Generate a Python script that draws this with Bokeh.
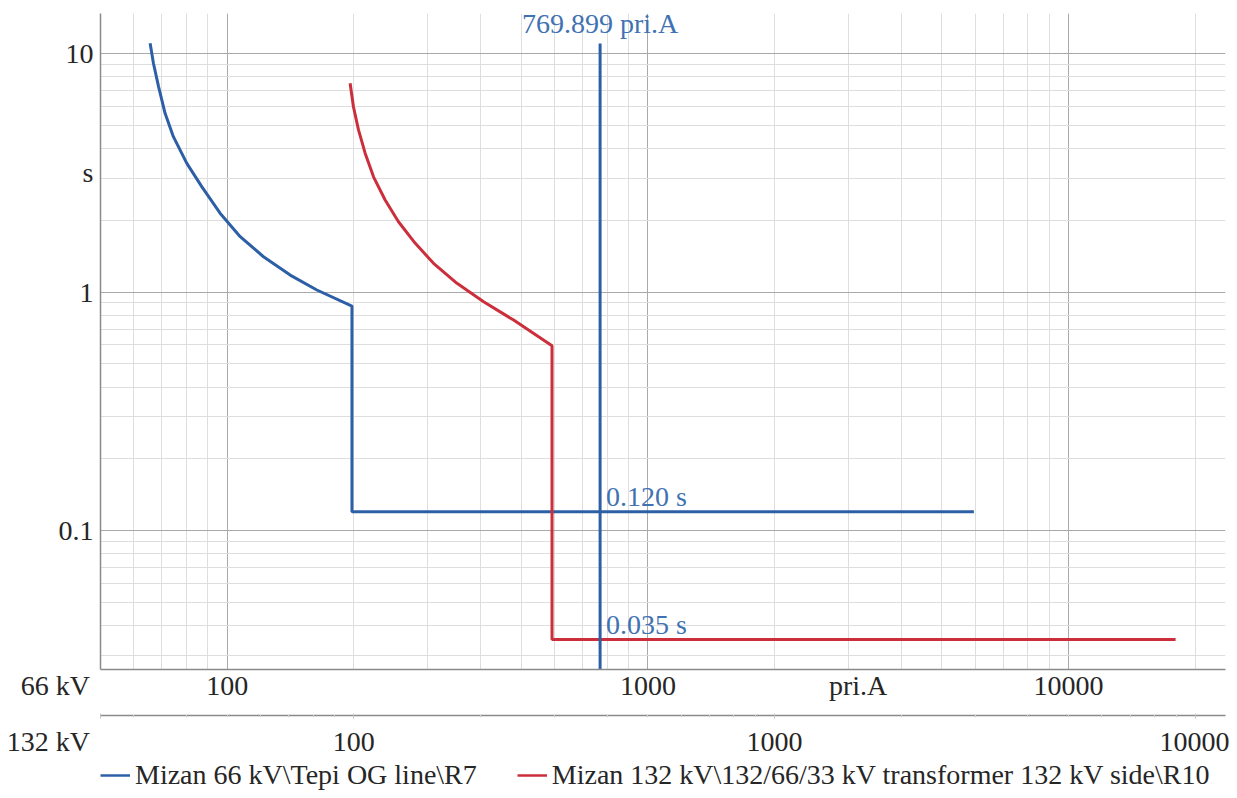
from bokeh.plotting import figure
from bokeh.layouts import column
from bokeh.models import (Range1d, LogAxis, LogScale, FixedTicker, Legend, LegendItem, Label)
from bokeh.embed import file_html
from bokeh.resources import INLINE

# ---------------- data ----------------
# Blue: Mizan 66 kV\Tepi OG line\R7 (currents in 66 kV primary amps)
blue_current = [65.6, 66.8, 68.7, 71.2, 74.5, 80.2, 87.1, 96.2, 107.4, 122.0, 141.2, 163.4, 198.0, 198.0, 5955.0]
blue_time = [11.04, 9.10, 7.26, 5.61, 4.48, 3.46, 2.76, 2.14, 1.706, 1.406, 1.178, 1.02, 0.874, 0.120, 0.120]

# Red: Mizan 132 kV transformer 132 kV side\R10 (currents in 132 kV primary amps)
red_current_132 = [98.0, 99.8, 102.6, 106.4, 111.4, 118.7, 127.7, 140.0, 154.7, 175.9, 203.5, 239.8, 295.9, 295.9, 8980.0]
red_time = [7.50, 5.98, 4.78, 3.82, 3.04, 2.43, 1.97, 1.60, 1.32, 1.088, 0.911, 0.763, 0.595, 0.035, 0.035]

# Cursor line (66 kV amps)
cursor_current = 769.899
cursor_top_time = 11.0
blue_definite_time = 0.120
red_definite_time = 0.035

# Axes ticks
x_ticks = [100, 1000, 10000]
x_tick_labels = ["100", "1000", "10000"]
x_title_tick = 3160
x_title = "pri.A"
y_ticks = [0.1, 1, 10]
y_tick_labels = ["0.1", "1", "10"]
y_title_tick = 3.16
y_title = "s"
voltage_labels = ["66 kV", "132 kV"]

legend_labels = ["Mizan 66 kV\\Tepi OG line\\R7",
                 "Mizan 132 kV\\132/66/33 kV transformer 132 kV side\\R10"]

# ---------------- style ----------------
BLUE = "#2d5fa6"
RED = "#cc2f3c"
TXT_BLUE = "#3f72b2"
TXT = "#262626"
FONT = "Liberation Serif"
FS = "28px"
NBSP = "\u00a0"

X_START, X_END = 50, 23600
Y_START, Y_END = 0.0262, 14.7

p = figure(frame_width=1125, frame_height=656,
           x_axis_type="log", y_axis_type="log",
           x_range=Range1d(X_START, X_END), y_range=Range1d(Y_START, Y_END),
           output_backend="svg", toolbar_location=None,
           min_border_left=100, min_border_right=4, min_border_top=13, min_border_bottom=0,
           outline_line_color=None, background_fill_color="white")

p.extra_x_ranges = {"kv132": Range1d(X_START / 2, X_END / 2)}
p.extra_x_scales = {"kv132": LogScale()}

# grids
def minors(lo_exp, hi_exp):
    out = []
    for e in range(lo_exp, hi_exp + 1):
        for m in range(2, 10):
            out.append(m * 10.0 ** e)
    return out

p.xgrid.ticker = FixedTicker(ticks=x_ticks, minor_ticks=[v for v in minors(1, 4) if X_START <= v <= X_END])
p.ygrid.ticker = FixedTicker(ticks=y_ticks, minor_ticks=[v for v in minors(-2, 1) if Y_START <= v <= Y_END])
for g in (p.xgrid[0], p.ygrid[0]):
    g.grid_line_color = "#a9a9a9"
    g.grid_line_width = 1
    g.minor_grid_line_color = "#dedede"
    g.minor_grid_line_width = 1

# x axis (66 kV) -- the voltage name sits at the start of the axis, padded so it ends left of the frame
v66_tick = X_START * 1.002
xa = p.xaxis[0]
xa.ticker = FixedTicker(ticks=[v66_tick] + x_ticks + [x_title_tick])
xa.major_label_overrides = {v66_tick: voltage_labels[0] + NBSP * 13,
                            **{k: v for k, v in zip(x_ticks, x_tick_labels)},
                            x_title_tick: x_title}
xa.major_tick_in = 0
xa.major_tick_out = 0
xa.minor_tick_in = 0
xa.minor_tick_out = 0
xa.major_label_standoff = 0
xa.axis_line_color = "#8a8a8a"
xa.axis_line_width = 1.5
xa.major_label_text_font = FONT
xa.major_label_text_font_size = FS
xa.major_label_text_color = TXT
xa.axis_label = " "
xa.axis_label_text_font_size = "8px"
xa.axis_label_standoff = 0

# x axis (132 kV)
v132_tick = X_START / 2 * 1.002
xa2 = LogAxis(x_range_name="kv132",
              ticker=FixedTicker(ticks=[v132_tick] + x_ticks,
                                 minor_ticks=[v for v in minors(1, 4) if X_START / 2 <= v <= X_END / 2]))
xa2.major_label_overrides = {v132_tick: voltage_labels[1] + NBSP * 15,
                             **{k: v for k, v in zip(x_ticks, x_tick_labels)}}
xa2.major_tick_in = 2
xa2.major_tick_out = 3
xa2.minor_tick_in = 1
xa2.minor_tick_out = 2
xa2.major_tick_line_color = "#c4c4c4"
xa2.minor_tick_line_color = "#d4d4d4"
xa2.major_label_standoff = 7
xa2.axis_line_color = "#8a8a8a"
xa2.axis_line_width = 1.5
xa2.major_label_text_font = FONT
xa2.major_label_text_font_size = FS
xa2.major_label_text_color = TXT
p.add_layout(xa2, "below")

# y axis
ya = p.yaxis[0]
ya.ticker = FixedTicker(ticks=y_ticks + [y_title_tick])
ya.major_label_overrides = {**{k: v for k, v in zip(y_ticks, y_tick_labels)}, y_title_tick: y_title}
ya.major_tick_in = 0
ya.major_tick_out = 0
ya.minor_tick_in = 0
ya.minor_tick_out = 0
ya.major_label_standoff = 7
ya.axis_line_color = "#8a8a8a"
ya.axis_line_width = 1.5
ya.major_label_text_font = FONT
ya.major_label_text_font_size = FS
ya.major_label_text_color = TXT

# curves
r_blue = p.line(blue_current, blue_time, line_color=BLUE, line_width=3)
r_red = p.line(red_current_132, red_time, x_range_name="kv132", line_color=RED, line_width=3)

# cursor
p.segment(x0=[cursor_current], y0=[Y_START], x1=[cursor_current], y1=[cursor_top_time],
          line_color=BLUE, line_width=3)

p.add_layout(Label(x=cursor_current, y=646, y_units="screen", text=f"{cursor_current:.3f} pri.A",
                   text_align="center", text_baseline="middle", text_font=FONT,
                   text_font_size=FS, text_color=TXT_BLUE))
p.add_layout(Label(x=cursor_current, y=blue_definite_time, x_offset=6, y_offset=15,
                   text=f"{blue_definite_time:.3f} s", text_align="left", text_baseline="alphabetic",
                   text_font=FONT, text_font_size=FS, text_color=TXT_BLUE))
p.add_layout(Label(x=cursor_current, y=red_definite_time, x_offset=6, y_offset=15,
                   text=f"{red_definite_time:.3f} s", text_align="left", text_baseline="alphabetic",
                   text_font=FONT, text_font_size=FS, text_color=TXT_BLUE))

# ---------------- legend strip below the chart ----------------
leg_fig = figure(width=1237, height=36, x_range=Range1d(0, 1), y_range=Range1d(0, 1),
                 x_axis_location=None, y_axis_location=None,
                 output_backend="svg", toolbar_location=None,
                 min_border_left=68, min_border_right=0, min_border_top=0, min_border_bottom=0,
                 outline_line_color=None, background_fill_color="white")
leg_fig.grid.visible = False
# same series drawn (out of view) in the strip so the legend has renderers to sample
lb = leg_fig.line(blue_current, blue_time, line_color=BLUE, line_width=2.5)
lr = leg_fig.line(red_current_132, red_time, line_color=RED, line_width=2.5)
legend = Legend(items=[LegendItem(label=legend_labels[0], renderers=[lb]),
                       LegendItem(label=legend_labels[1], renderers=[lr])],
                orientation="horizontal", location="top_left",
                label_text_font=FONT, label_text_font_size=FS, label_text_color=TXT,
                glyph_width=30, glyph_height=20, label_standoff=5, spacing=40,
                padding=0, margin=0, border_line_color=None, background_fill_alpha=0)
leg_fig.add_layout(legend, "center")

layout = column(p, leg_fig, spacing=0)

open("out.html", "w").write(file_html(layout, INLINE))
